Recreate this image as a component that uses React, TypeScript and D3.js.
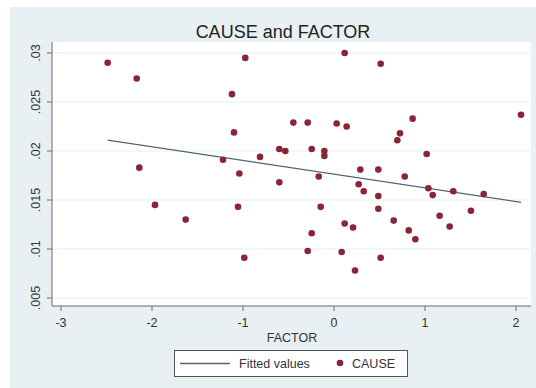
import React, { useRef, useEffect } from "react";
import * as d3 from "d3";

// CAUSE vs FACTOR scatter
const FACTOR = [
  -2.487, -2.168, -0.975, -1.121, -0.447, -1.099, -0.601, -0.535, -0.813, -1.22,
  -2.139, -1.04, 0.117, 0.513, -0.289, 0.029, 0.139, 0.864, 2.055, 0.725,
  0.696, -0.245, -0.106, -0.106, 1.018, 0.289, 0.487, -0.168, 0.777, -0.601,
  -1.967, -1.055, -1.63, -0.986, 0.271, 0.327, 0.487, 1.037, 1.085, 1.311,
  1.645, -0.146, 0.487, 1.505, 0.656, 1.161, 0.117, 0.209, 1.271, 0.821,
  -0.245, 0.894, -0.289, 0.084, 0.513, 0.231,
];
const CAUSE = [
  0.0290, 0.0274, 0.0295, 0.0258, 0.0229, 0.0219, 0.0202, 0.0200, 0.0194, 0.0191,
  0.0183, 0.0177, 0.0300, 0.0289, 0.0229, 0.0228, 0.0225, 0.0233, 0.0237, 0.0218,
  0.0211, 0.0202, 0.0200, 0.0195, 0.0197, 0.0181, 0.0181, 0.0174, 0.0174, 0.0168,
  0.0145, 0.0143, 0.0130, 0.0091, 0.0166, 0.0159, 0.0154, 0.0162, 0.0155, 0.0159,
  0.0156, 0.0143, 0.0141, 0.0139, 0.0129, 0.0134, 0.0126, 0.0122, 0.0123, 0.0119,
  0.0116, 0.0110, 0.0098, 0.0097, 0.0091, 0.0078,
];
// fitted values line (endpoints at min / max FACTOR)
const FIT_X = [-2.487, 2.055];
const FIT_Y = [0.02112, 0.01476];

const X_TICKS = [-3, -2, -1, 0, 1, 2];
const Y_TICKS = [0.005, 0.01, 0.015, 0.02, 0.025, 0.03];
const Y_TICK_LABELS = [".005", ".01", ".015", ".02", ".025", ".03"];

const W = 536;
const H = 388;
const FONT = "'Liberation Sans', Arial, Helvetica, sans-serif";

const App: React.FC = () => {
  const svgRef = useRef<SVGSVGElement | null>(null);

  useEffect(() => {
    if (!svgRef.current) return;
    const svg = d3.select(svgRef.current);
    svg.selectAll("*").remove();

    const plot = { left: 52, right: 531, top: 42, bottom: 306 };
    const x = d3.scaleLinear().domain([-3, 2]).range([61, 516]);
    const y = d3.scaleLinear().domain([0.005, 0.03]).range([298, 53]);

    /* background */
    svg.append("rect").attr("width", W).attr("height", H).attr("fill", "#ffffff");
    svg
      .append("rect")
      .attr("x", 10)
      .attr("y", 7)
      .attr("width", W - 10)
      .attr("height", H - 7)
      .attr("fill", "#e9f0f3");
    svg
      .append("rect")
      .attr("x", plot.left)
      .attr("y", plot.top)
      .attr("width", plot.right - plot.left)
      .attr("height", plot.bottom - plot.top)
      .attr("fill", "#ffffff");

    /* grid */
    svg
      .append("g")
      .selectAll("line")
      .data(Y_TICKS)
      .join("line")
      .attr("x1", plot.left)
      .attr("x2", plot.right)
      .attr("y1", (d) => y(d))
      .attr("y2", (d) => y(d))
      .attr("stroke", "#e8eef1")
      .attr("stroke-width", 1);

    /* title */
    svg
      .append("text")
      .attr("x", 283)
      .attr("y", 38)
      .attr("text-anchor", "middle")
      .attr("font-family", FONT)
      .attr("font-size", "18px")
      .attr("fill", "#222")
      .text("CAUSE and FACTOR");

    /* axes */
    const axisColor = "#6b6b6b";
    svg
      .append("line")
      .attr("x1", plot.left)
      .attr("x2", plot.left)
      .attr("y1", plot.top)
      .attr("y2", plot.bottom)
      .attr("stroke", axisColor);
    svg
      .append("line")
      .attr("x1", plot.left)
      .attr("x2", plot.right)
      .attr("y1", plot.bottom)
      .attr("y2", plot.bottom)
      .attr("stroke", axisColor);

    const yt = svg.append("g");
    yt.selectAll("line")
      .data(Y_TICKS)
      .join("line")
      .attr("x1", plot.left - 5)
      .attr("x2", plot.left)
      .attr("y1", (d) => y(d))
      .attr("y2", (d) => y(d))
      .attr("stroke", axisColor);
    yt.selectAll("text")
      .data(Y_TICKS)
      .join("text")
      .attr("transform", (d) => `translate(40,${y(d)}) rotate(-90)`)
      .attr("text-anchor", "middle")
      .attr("font-family", FONT)
      .attr("font-size", "12.5px")
      .attr("fill", "#333")
      .text((_, i) => Y_TICK_LABELS[i]);

    const xt = svg.append("g");
    xt.selectAll("line")
      .data(X_TICKS)
      .join("line")
      .attr("x1", (d) => x(d))
      .attr("x2", (d) => x(d))
      .attr("y1", plot.bottom)
      .attr("y2", plot.bottom + 5)
      .attr("stroke", axisColor);
    xt.selectAll("text")
      .data(X_TICKS)
      .join("text")
      .attr("x", (d) => x(d))
      .attr("y", 327)
      .attr("text-anchor", "middle")
      .attr("font-family", FONT)
      .attr("font-size", "12.5px")
      .attr("fill", "#333")
      .text((d) => `${d}`);

    svg
      .append("text")
      .attr("x", 292)
      .attr("y", 342)
      .attr("text-anchor", "middle")
      .attr("font-family", FONT)
      .attr("font-size", "12.5px")
      .attr("fill", "#333")
      .text("FACTOR");

    /* fitted line */
    const lineColor = "#4e6579";
    const line = d3
      .line<number>()
      .x((d) => x(d))
      .y((_, i) => y(FIT_Y[i]));
    svg
      .append("path")
      .attr("d", line(FIT_X))
      .attr("fill", "none")
      .attr("stroke", lineColor)
      .attr("stroke-width", 1.3);

    /* points */
    const dotColor = "#8a2633";
    svg
      .append("g")
      .selectAll("circle")
      .data(FACTOR)
      .join("circle")
      .attr("cx", (d) => x(d))
      .attr("cy", (_, i) => y(CAUSE[i]))
      .attr("r", 3.3)
      .attr("fill", dotColor);

    /* legend */
    const lg = svg.append("g");
    lg.append("rect")
      .attr("x", 174.5)
      .attr("y", 350.5)
      .attr("width", 233)
      .attr("height", 26)
      .attr("fill", "#ffffff")
      .attr("stroke", "#555");
    lg.append("line")
      .attr("x1", 180)
      .attr("x2", 230)
      .attr("y1", 363.5)
      .attr("y2", 363.5)
      .attr("stroke", lineColor)
      .attr("stroke-width", 1.3);
    lg.append("text")
      .attr("x", 239)
      .attr("y", 368)
      .attr("font-family", FONT)
      .attr("font-size", "12.5px")
      .attr("fill", "#333")
      .text("Fitted values");
    lg.append("circle").attr("cx", 340).attr("cy", 363).attr("r", 3.3).attr("fill", dotColor);
    lg.append("text")
      .attr("x", 352)
      .attr("y", 368)
      .attr("font-family", FONT)
      .attr("font-size", "12.5px")
      .attr("fill", "#333")
      .text("CAUSE");
  }, []);

  return (
    <svg
      ref={svgRef}
      width={W}
      height={H}
      style={{ position: "absolute", left: 0, top: 0, display: "block" }}
    />
  );
};

export default App;
